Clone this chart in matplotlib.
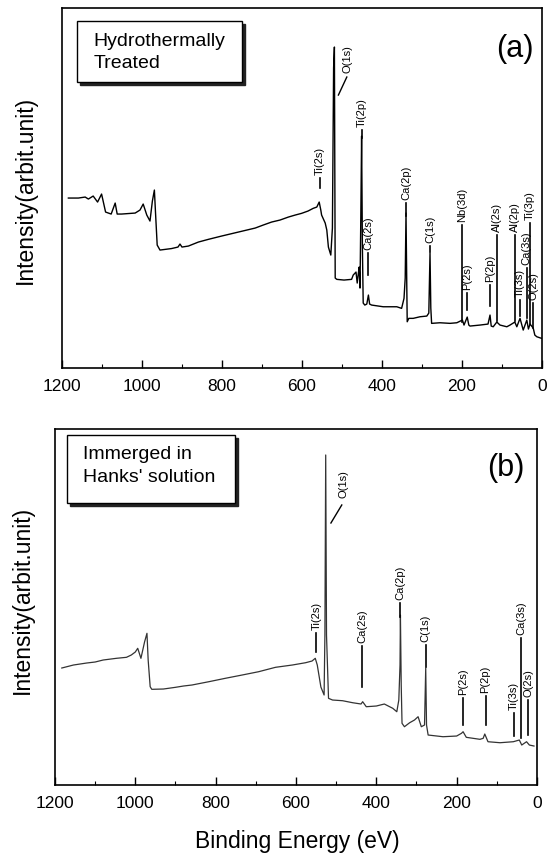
import matplotlib
matplotlib.use("Agg")
import matplotlib.pyplot as plt
import matplotlib.transforms as mtransforms
from matplotlib.patches import Rectangle
from matplotlib.ticker import MultipleLocator

plt.rcParams['font.family'] = ['Liberation Sans', 'DejaVu Sans']

# ---------------- data: panel (a) hydrothermally treated ----------------
energy_a = [1184, 1159, 1142, 1134, 1122, 1111, 1101, 1091, 1077, 1067, 1062, 1051,
            1017, 1005, 997, 988, 980, 974, 969, 966, 962, 955, 926, 910, 905, 900,
            884, 859, 834, 801, 780, 759, 738, 717, 697, 676, 655, 634, 617, 601,
            585, 572, 563, 557, 553, 551, 542, 538, 534, 528, 524, 521, 519, 518,
            517, 513, 495, 476, 472, 465, 462, 459, 457, 455, 453, 451, 449, 447,
            443, 438, 434, 431, 426, 397, 363, 351, 345, 342, 340, 338, 337, 333,
            322, 305, 288, 283, 280, 278, 276, 255, 230, 213, 199, 195, 187, 183,
            180, 155, 135, 130, 127, 122, 113, 105, 88, 80, 68, 63, 55, 47, 38,
            34, 30, 22, 18, 13, 1]
intensity_a = [170, 170, 171, 169, 172, 166, 174, 156, 154, 165, 154, 154,
               155, 158, 164, 153, 147, 167, 178, 154, 123, 118, 119.5, 121, 124, 121,
               122, 126, 128.7, 132, 134, 136, 138, 140, 143, 146, 148, 151, 153, 154.7,
               157, 159.7, 161, 166, 158, 153, 145, 138, 121, 113, 140, 300, 321, 200,
               90, 88.7, 88, 88.7, 93, 96, 85, 95, 101, 80, 150, 232, 120, 65,
               63, 64, 73, 64, 63, 61.3, 61.3, 59.7, 69.7, 90, 155, 80, 46.3, 49.7,
               49.7, 51.3, 52, 55, 115, 60, 44.7, 45.3, 44.7, 45.3, 48, 43, 51, 43,
               42, 43, 44, 53, 42, 41.3, 46, 43, 41.3, 43, 46, 41.3, 49.7, 38, 48,
               39, 44, 40, 33, 31.3, 29.7]

# peak labels (a)
labels_a = ['Ti(2s)', 'O(1s)', 'Ti(2p)', 'Ca(2s)', 'Ca(2p)', 'C(1s)', 'Nb(3d)', 'P(2s)',
            'P(2p)', 'Al(2s)', 'Al(2p)', 'Ti(3s)', 'Ca(3s)', 'Ti(3p)', 'O(2s)']
label_energy_a = [555, 487, 451, 434, 340, 280, 199, 187, 130, 113, 68, 55, 38, 30, 22]
label_base_a = [193, 295, 241, 118, 168, 125, 146, 78, 86, 136, 136, 71, 103, 148, 68]
label_tip_a = [180, 273, 230, 93, 152, 116, 46, 58, 62, 47, 47, 52, 50, 44, 40]
o1s_leader_a = [(488, 291), (509, 273)]

# ---------------- data: panel (b) immersed in Hanks' solution ----------------
energy_b = [1183, 1154, 1121, 1100, 1080, 1047, 1022, 1010, 1000, 994, 986, 977, 971,
            968, 963, 959, 930, 900, 880, 859, 817, 776, 734, 693, 651, 609, 576,
            560, 552, 547, 538, 530, 528, 526, 524, 519, 509, 484, 459, 438, 434,
            425, 400, 380, 359, 349, 344, 341, 340, 338, 336, 330, 317, 305, 296,
            288, 280, 277, 275, 271, 234, 200, 188, 184, 176, 142, 134, 130, 122,
            92, 59, 44, 38, 26, 19, 7.5]
intensity_b = [117, 120, 122, 123, 125, 126.7, 127.7, 130, 133, 136.7, 126.7, 143, 151.7,
               125, 98.3, 95.7, 96, 97.7, 99, 100, 103.3, 106.7, 110, 113.3, 117.7, 120, 122.3,
               124, 126.7, 120, 98, 90, 150, 330, 150, 86.7, 85, 84.3, 82.3, 81, 83.3,
               78.3, 79, 81, 76.7, 73.3, 85, 120, 170, 100, 61.7, 58.3, 62.3, 65, 68.3,
               58.3, 60, 117, 60, 50, 48.3, 49, 51.7, 53.3, 47.7, 45.7, 46.7, 51, 43.3,
               42.3, 43.3, 45, 40, 43.3, 40, 39]

labels_b = ['Ti(2s)', 'O(1s)', 'Ca(2s)', 'Ca(2p)', 'C(1s)', 'P(2s)', 'P(2p)',
            'Ti(3s)', 'Ca(3s)', 'O(2s)']
label_energy_b = [549, 482, 435, 340, 277, 185, 128, 57, 40, 22]
label_base_b = [155, 287, 142, 185, 143, 90, 92, 75, 150, 88]
label_tip_b = [133, 262, 98, 168, 118, 60, 60, 49, 47, 50]
o1s_leader_b = [(486, 280), (513, 262)]

xticks = [1200, 1000, 800, 600, 400, 200, 0]

# ---------------- figure ----------------
fig = plt.figure(figsize=(5.47, 8.64), dpi=100)
ax_a = fig.add_axes([0.1133, 0.574, 0.8776, 0.4167])
ax_b = fig.add_axes([0.1005, 0.0914, 0.8812, 0.4121])


def style_axes(ax, ytop):
    ax.set_xlim(1200, 0)
    ax.set_ylim(0, ytop)
    ax.set_xticks(xticks)
    ax.set_xticklabels([str(t) for t in xticks])
    ax.xaxis.set_minor_locator(MultipleLocator(100))
    ax.tick_params(axis='x', which='major', direction='in', length=6, width=1,
                   labelsize=12.5, pad=8, top=False)
    ax.tick_params(axis='x', which='minor', direction='in', length=3, width=0.8, top=False)
    ax.set_yticks([])
    for s in ax.spines.values():
        s.set_linewidth(1.2)


def draw_labels(ax, names, energies, bases, tips, leader):
    for n, e, b, t in zip(names, energies, bases, tips):
        ax.text(e, b, n, rotation=90, ha='center', va='bottom', fontsize=8)
        if n == 'O(1s)':
            ax.plot([leader[0][0], leader[1][0]], [leader[0][1], leader[1][1]],
                    color='black', lw=1)
        else:
            ax.plot([e, e], [b - 3, t], color='black', lw=1.2)


def text_box(fig, ax, x0, y0, w, h, lines, tx, tys):
    shadow_tr = ax.transAxes + mtransforms.ScaledTranslation(3 / 100, -3 / 100, fig.dpi_scale_trans)
    ax.add_patch(Rectangle((x0, y0), w, h, transform=shadow_tr, facecolor='#222222',
                           edgecolor='#222222', zorder=4))
    ax.add_patch(Rectangle((x0, y0), w, h, transform=ax.transAxes, facecolor='white',
                           edgecolor='black', lw=1.0, zorder=5))
    for line, ty in zip(lines, tys):
        ax.text(tx, ty, line, transform=ax.transAxes, fontsize=14, ha='left',
                va='center', zorder=6)


# panel (a)
style_axes(ax_a, 360)
ax_a.plot(energy_a, intensity_a, color='black', lw=1.0)
draw_labels(ax_a, labels_a, label_energy_a, label_base_a, label_tip_a, o1s_leader_a)
text_box(fig, ax_a, 0.031, 0.794, 0.344, 0.170, ['Hydrothermally', 'Treated'],
         0.065, [0.906, 0.847])
ax_a.text(0.944, 0.886, '(a)', transform=ax_a.transAxes, fontsize=22,
          ha='center', va='center')

# panel (b)
style_axes(ax_b, 356)
ax_b.plot(energy_b, intensity_b, color='#333333', lw=0.9)
draw_labels(ax_b, labels_b, label_energy_b, label_base_b, label_tip_b, o1s_leader_b)
text_box(fig, ax_b, 0.025, 0.792, 0.348, 0.191, ['Immerged in', "Hanks' solution"],
         0.058, [0.927, 0.865])
ax_b.text(0.936, 0.890, '(b)', transform=ax_b.transAxes, fontsize=22,
          ha='center', va='center')

fig.text(0.046, 0.78, 'Intensity(arbit.unit)', rotation=90, ha='center', va='center',
         fontsize=16.5)
fig.text(0.040, 0.306, 'Intensity(arbit.unit)', rotation=90, ha='center', va='center',
         fontsize=16.5)
fig.text(0.543, 0.0266, 'Binding Energy (eV)', ha='center', va='center', fontsize=16.5)

fig.savefig('out.png', dpi=100)
